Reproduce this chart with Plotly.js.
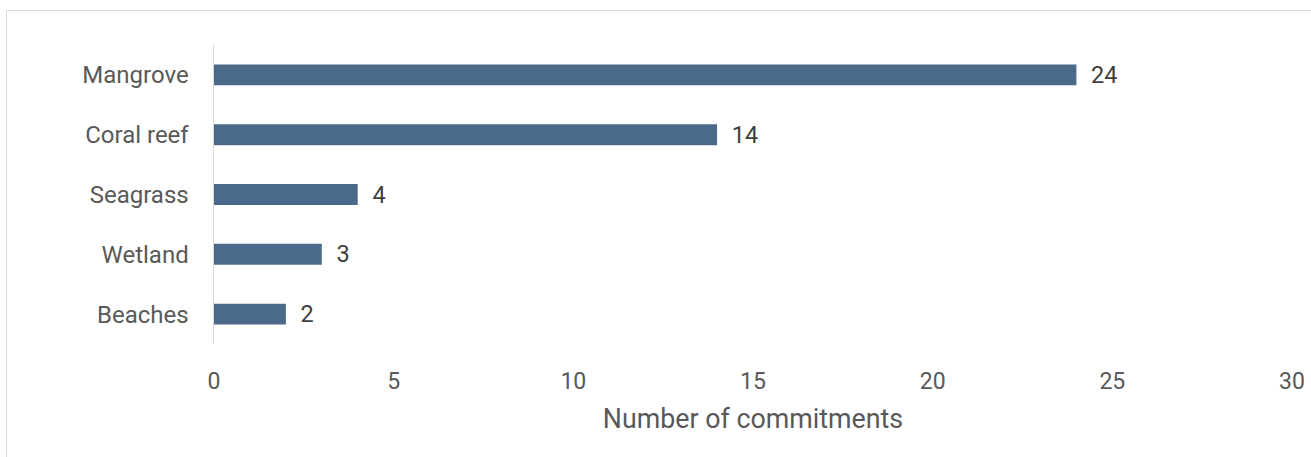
<!DOCTYPE html>
<html>
<head>
<meta charset="utf-8">
<script src="https://cdn.plot.ly/plotly-3.0.1.min.js"></script>
<style>
  html, body { margin: 0; padding: 0; background: #fff; overflow: hidden; }
  #wrap { position: relative; width: 1311px; height: 457px; }
  #frame { position: absolute; left: 6px; top: 10px; width: 1320px; height: 460px; border: 1.5px solid #d9d9d9; box-sizing: border-box; pointer-events: none; }
  #chart { position: absolute; left: 0; top: 0; width: 1311px; height: 457px; }
</style>
</head>
<body>
<div id="wrap">
  <div id="chart"></div>
  <div id="frame"></div>
</div>
<script>
const categories = ["Mangrove", "Coral reef", "Seagrass", "Wetland", "Beaches"];
const commitments = [24, 14, 4, 3, 2];
const xTickValues = [0, 5, 10, 15, 20, 25, 30];

const trace = {
  type: "bar",
  orientation: "h",
  y: categories,
  x: commitments,
  marker: { color: "#4b6a8a" },
  text: commitments.map(v => "\u00a0\u00a0" + v),
  textposition: "outside",
  constraintext: "none",
  cliponaxis: false,
  textfont: { family: "Roboto, sans-serif", size: 23.5, color: "#404040" },
  hoverinfo: "none"
};

const layout = {
  width: 1311,
  height: 457,
  margin: { l: 214, r: 19, t: 45, b: 113 },
  paper_bgcolor: "#ffffff",
  plot_bgcolor: "#ffffff",
  showlegend: false,
  bargap: 0.65,
  font: { family: "Roboto, sans-serif", color: "#595959" },
  xaxis: {
    range: [0, 30],
    tickvals: xTickValues,
    ticktext: xTickValues.map(String),
    showgrid: false,
    zeroline: false,
    showline: false,
    ticks: "outside",
    ticklen: 16,
    tickcolor: "rgba(0,0,0,0)",
    tickfont: { family: "Roboto, sans-serif", size: 23, color: "#595959" },
    title: { text: "Number of commitments", font: { family: "Roboto, sans-serif", size: 26.8, color: "#595959" }, standoff: 15 },
    fixedrange: true
  },
  yaxis: {
    autorange: "reversed",
    showgrid: false,
    zeroline: false,
    showline: true,
    linecolor: "#d9d9d9",
    linewidth: 1.5,
    ticks: "outside",
    ticklen: 19,
    tickcolor: "rgba(0,0,0,0)",
    tickfont: { family: "Roboto, sans-serif", size: 24, color: "#595959" },
    fixedrange: true
  }
};

Plotly.newPlot("chart", [trace], layout, { displayModeBar: false, staticPlot: true });
</script>
</body>
</html>
